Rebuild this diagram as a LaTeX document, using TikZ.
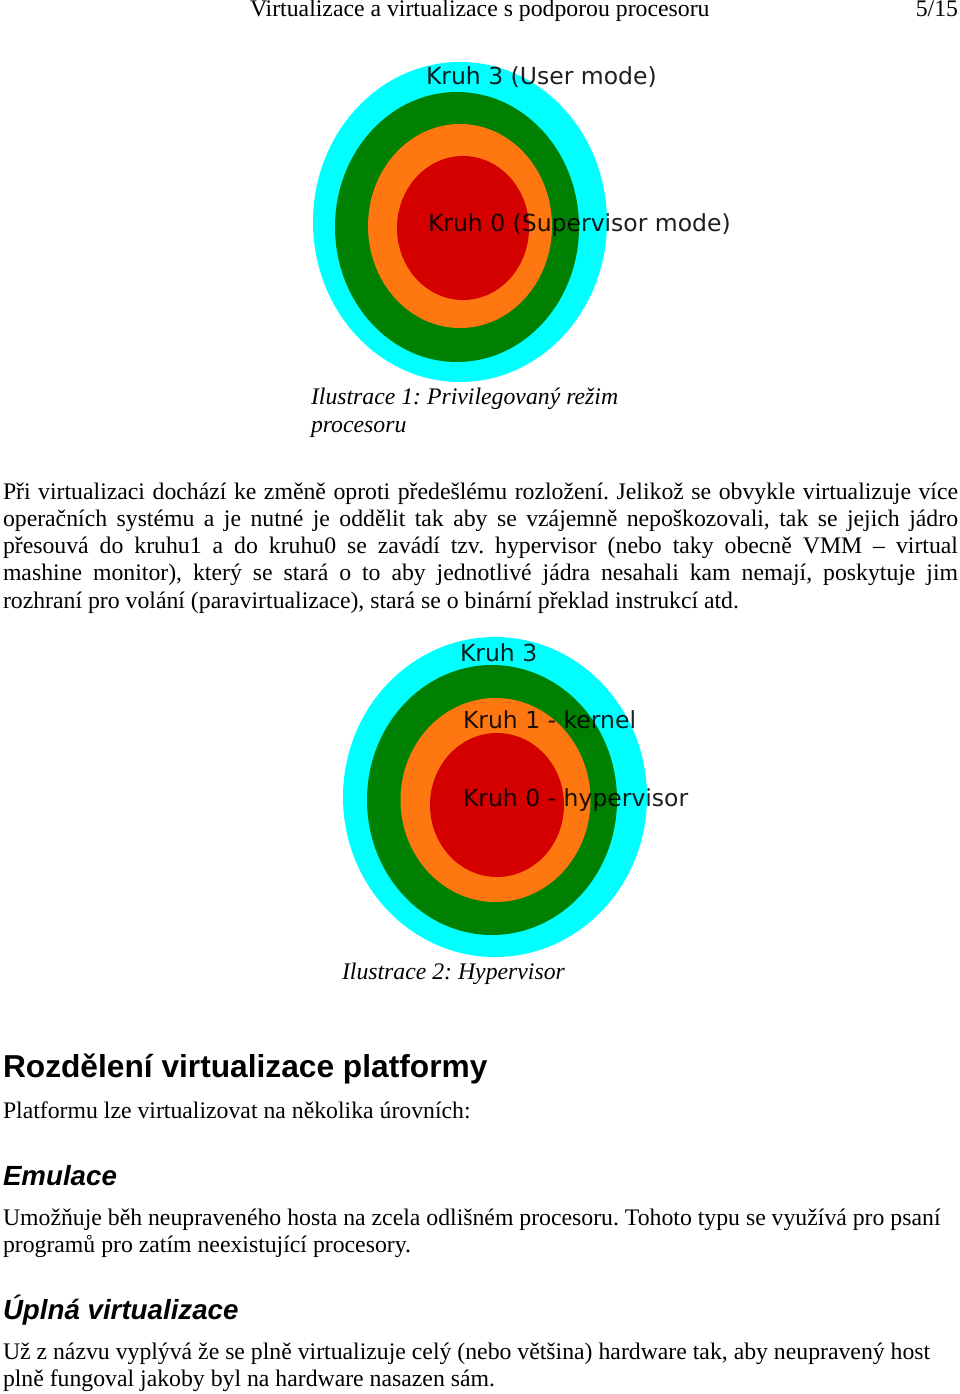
\documentclass[tikz,border=0pt]{standalone}
\usepackage{fontspec}
\setmainfont{Liberation Serif}
\newfontfamily\headfnt{Liberation Sans}
\newfontfamily\ringfnt{DejaVu Sans}
\newcommand\bodyfnt{\fontsize{23.75}{27.3}\selectfont}
\frenchspacing
\definecolor{ringcyan}{HTML}{00FFFF}
\definecolor{ringgreen}{HTML}{008000}
\definecolor{ringorange}{HTML}{FF7711}
\definecolor{ringred}{HTML}{D40000}
\tikzset{
  txt/.style={anchor=base west, inner sep=0pt, outer sep=0pt, font=\bodyfnt},
  captxt/.style={txt, font=\bodyfnt\itshape},
  ringlbl/.style={anchor=base west, inner sep=0pt, outer sep=0pt,
    font=\ringfnt\fontsize{23.5}{28}\selectfont, text=black, text opacity=0.88},
  headA/.style={anchor=base west, inner sep=0pt, outer sep=0pt,
    font=\headfnt\bfseries\fontsize{31.7}{36}\selectfont},
  headB/.style={anchor=base west, inner sep=0pt, outer sep=0pt,
    font=\headfnt\bfseries\itshape\fontsize{27.7}{32}\selectfont},
}
\begin{document}
\begin{tikzpicture}[x=1pt,y=-1pt]
\useasboundingbox[fill=white] (0,0) rectangle (960,1394);

% header
\node[txt] (hdr) at (250,17) {Virtualizace a virtualizace s podporou procesoru};
\node[txt, anchor=base east] (pg) at (958,17) {5/15};

% figure 1
\fill[ringcyan] (460,222) ellipse [x radius=147, y radius=160];
\fill[ringgreen] (457,227) ellipse [x radius=122, y radius=135];
\fill[ringorange] (460,226) ellipse [x radius=92, y radius=102];
\fill[ringred] (463,228) ellipse [x radius=66, y radius=72];
\node[ringlbl] (r3a) at (426,85) {Kruh 3 (User mode)};
\node[ringlbl] (r0a) at (428,231) {Kruh 0 (Supervisor mode)};
\node[captxt] (cap1a) at (311,404) {Ilustrace 1: Privilegovaný režim};
\node[captxt] (cap1b) at (311,432) {procesoru};

% paragraph
\node[txt] (p1) at (3,499) {\hbox to 955pt{Při virtualizaci dochází ke změně oproti předešlému rozložení. Jelikož se obvykle virtualizuje více}};
\node[txt] (p2) at (3,526.3) {\hbox to 955pt{operačních systému a je nutné je oddělit tak aby se vzájemně nepoškozovali, tak se jejich jádro}};
\node[txt] (p3) at (3,553.6) {\hbox to 955pt{přesouvá do kruhu1 a do kruhu0 se zavádí tzv. hypervisor (nebo taky obecně VMM – virtual}};
\node[txt] (p4) at (3,580.9) {\hbox to 955pt{mashine monitor), který se stará o to aby jednotlivé jádra nesahali kam nemají, poskytuje jim}};
\node[txt] (p5) at (3,608.2) {rozhraní pro volání (paravirtualizace), stará se o binární překlad instrukcí atd.};

% figure 2
\fill[ringcyan] (495,797) ellipse [x radius=152, y radius=160];
\fill[ringgreen] (492,800) ellipse [x radius=125, y radius=135];
\fill[ringorange] (495.5,800) ellipse [x radius=95, y radius=102];
\fill[ringred] (497,805) ellipse [x radius=67, y radius=72];
\node[ringlbl] (r3b) at (460,661) {Kruh 3};
\node[ringlbl] (r1b) at (463,728) {Kruh 1 - kernel};
\node[ringlbl] (r0b) at (463,806) {Kruh 0 - hypervisor};
\node[captxt] (cap2) at (342,979) {Ilustrace 2: Hypervisor};

% sections
\node[headA] (h1) at (3,1077) {Rozdělení virtualizace platformy};
\node[txt] (t1) at (3,1118) {Platformu lze virtualizovat na několika úrovních:};
\node[headB] (h2) at (3,1185) {Emulace};
\node[txt] (t2a) at (3,1225) {Umožňuje běh neupraveného hosta na zcela odlišném procesoru. Tohoto typu se využívá pro psaní};
\node[txt] (t2b) at (3,1252.3) {programů pro zatím neexistující procesory.};
\node[headB] (h3) at (3,1319) {Úplná virtualizace};
\node[txt] (t3a) at (3,1359) {Už z názvu vyplývá že se plně virtualizuje celý (nebo většina) hardware tak, aby neupravený host};
\node[txt] (t3b) at (3,1386.3) {plně fungoval jakoby byl na hardware nasazen sám.};
\end{tikzpicture}
\end{document}
